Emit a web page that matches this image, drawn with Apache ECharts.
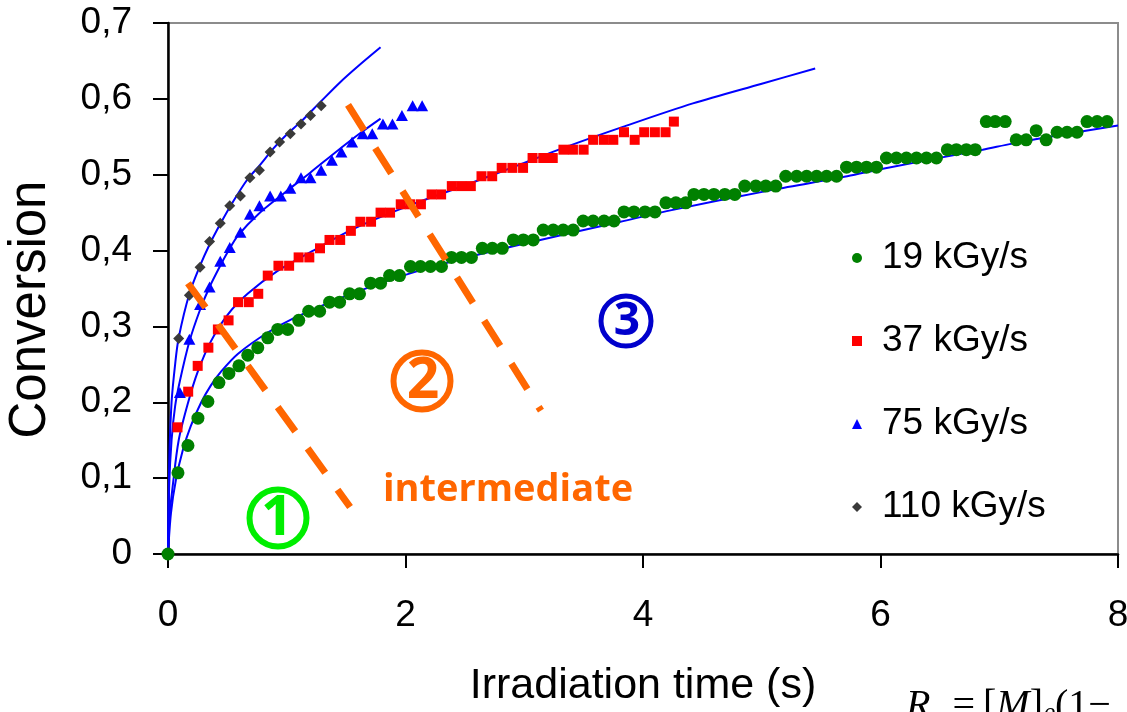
<!DOCTYPE html>
<html><head><meta charset="utf-8">
<script src="https://cdn.jsdelivr.net/npm/echarts@6/dist/echarts.min.js"></script>
<style>html,body{margin:0;padding:0;background:#fff}#c{width:1127px;height:712px}</style>
</head><body><div id="c"></div>
<script>
const seriesNames = ['19 kGy/s', '37 kGy/s', '75 kGy/s', '110 kGy/s'];
const xTickLabels = ['0', '2', '4', '6', '8'];
const yTickLabels = ['0', '0,1', '0,2', '0,3', '0,4', '0,5', '0,6', '0,7'];

// measured points [time (s), conversion]
const data19 = [[0,0],[0.084,0.107],[0.168,0.143],[0.252,0.179],[0.336,0.201],[0.429,0.226],[0.513,0.238],[0.597,0.248],[0.672,0.262],[0.756,0.272],[0.84,0.285],[0.924,0.296],[1.008,0.296],[1.101,0.308],[1.185,0.32],[1.277,0.32],[1.361,0.332],[1.445,0.332],[1.529,0.343],[1.613,0.343],[1.706,0.357],[1.79,0.357],[1.866,0.367],[1.95,0.367],[2.042,0.379],[2.126,0.379],[2.21,0.379],[2.303,0.379],[2.387,0.391],[2.471,0.391],[2.555,0.391],[2.647,0.403],[2.731,0.403],[2.815,0.403],[2.908,0.414],[2.992,0.414],[3.076,0.414],[3.16,0.427],[3.244,0.427],[3.328,0.427],[3.412,0.427],[3.496,0.439],[3.58,0.439],[3.672,0.439],[3.756,0.439],[3.84,0.451],[3.924,0.451],[4.017,0.451],[4.101,0.451],[4.193,0.463],[4.277,0.463],[4.36,0.463],[4.429,0.474],[4.513,0.474],[4.597,0.474],[4.689,0.474],[4.773,0.474],[4.857,0.485],[4.95,0.485],[5.034,0.485],[5.118,0.485],[5.202,0.498],[5.294,0.498],[5.378,0.498],[5.462,0.498],[5.546,0.498],[5.63,0.498],[5.714,0.51],[5.798,0.51],[5.882,0.51],[5.966,0.51],[6.05,0.522],[6.134,0.522],[6.218,0.522],[6.303,0.522],[6.387,0.522],[6.471,0.522],[6.563,0.533],[6.639,0.533],[6.723,0.533],[6.798,0.533],[6.891,0.57],[6.966,0.57],[7.05,0.57],[7.143,0.546],[7.227,0.546],[7.311,0.558],[7.395,0.546],[7.487,0.556],[7.571,0.556],[7.655,0.556],[7.739,0.57],[7.824,0.57],[7.908,0.57]];
const data37 = [[0.08,0.167],[0.17,0.214],[0.25,0.248],[0.34,0.272],[0.42,0.296],[0.51,0.308],[0.59,0.332],[0.68,0.332],[0.76,0.343],[0.84,0.367],[0.93,0.38],[1.02,0.38],[1.1,0.391],[1.19,0.391],[1.28,0.403],[1.36,0.414],[1.45,0.414],[1.54,0.426],[1.62,0.438],[1.71,0.438],[1.79,0.45],[1.87,0.45],[1.96,0.461],[2.04,0.461],[2.13,0.461],[2.22,0.474],[2.3,0.474],[2.39,0.485],[2.47,0.485],[2.55,0.485],[2.64,0.498],[2.73,0.498],[2.81,0.509],[2.9,0.509],[2.99,0.509],[3.07,0.522],[3.16,0.522],[3.24,0.522],[3.33,0.533],[3.41,0.533],[3.5,0.533],[3.58,0.546],[3.67,0.546],[3.75,0.546],[3.84,0.556],[3.93,0.546],[4.01,0.556],[4.1,0.556],[4.19,0.556],[4.26,0.57]];
const data75 = [[0.1,0.213],[0.18,0.283],[0.27,0.329],[0.35,0.352],[0.44,0.386],[0.52,0.404],[0.61,0.424],[0.69,0.448],[0.77,0.459],[0.86,0.472],[0.95,0.472],[1.03,0.482],[1.12,0.496],[1.2,0.496],[1.29,0.506],[1.38,0.519],[1.46,0.53],[1.55,0.543],[1.64,0.554],[1.72,0.554],[1.81,0.567],[1.89,0.567],[1.97,0.578],[2.06,0.591],[2.14,0.591]];
const data110 = [[0.09,0.284],[0.18,0.341],[0.27,0.378],[0.35,0.412],[0.44,0.436],[0.52,0.459],[0.61,0.472],[0.69,0.496],[0.77,0.506],[0.86,0.53],[0.94,0.543],[1.03,0.554],[1.12,0.567],[1.2,0.578],[1.29,0.591]];

// fitted model curves
const fit19 = [[0,0],[0.025,0.054],[0.067,0.098],[0.125,0.137],[0.19,0.168],[0.28,0.2],[0.36,0.222],[0.45,0.241],[0.59,0.264],[0.84,0.292],[1.06,0.311],[1.43,0.336],[1.96,0.366],[2.5,0.39],[3.08,0.412],[3.81,0.438],[4.2,0.452],[5.09,0.48],[5.72,0.498],[6.02,0.508],[6.86,0.533],[7.11,0.541],[7.5,0.552],[8,0.565]];
const fit37 = [[0,0],[0.01,0.045],[0.04,0.09],[0.09,0.15],[0.17,0.2],[0.25,0.24],[0.36,0.28],[0.5,0.315],[0.67,0.343],[0.92,0.373],[1.2,0.398],[1.54,0.427],[1.96,0.455],[2.57,0.49],[2.94,0.512],[3.36,0.537],[3.83,0.563],[4.42,0.594],[5.0,0.62],[5.45,0.64]];
const fit75 = [[0,0],[0.01,0.09],[0.03,0.15],[0.06,0.195],[0.1,0.228],[0.18,0.28],[0.27,0.322],[0.35,0.352],[0.44,0.38],[0.51,0.4],[0.59,0.42],[0.76,0.448],[0.98,0.476],[1.2,0.503],[1.43,0.532],[1.62,0.555],[1.79,0.574]];
const fit110 = [[0,0],[0.01,0.12],[0.03,0.2],[0.06,0.25],[0.09,0.285],[0.18,0.343],[0.27,0.38],[0.35,0.408],[0.44,0.435],[0.55,0.465],[0.67,0.494],[0.77,0.512],[0.89,0.535],[1.0,0.553],[1.12,0.57],[1.29,0.597],[1.45,0.622],[1.6,0.643],[1.79,0.668]];

// regime boundaries (dashed orange lines), in data coordinates
const boundary1 = [[0.168,0.357],[1.533,0.062]];
const boundary2 = [[1.516,0.592],[3.141,0.189]];

const FONT = "'Liberation Sans', Arial, sans-serif";
const chart = echarts.init(document.getElementById('c'), null, {renderer: 'canvas'});

function fitSeries(name, d, extra) {
  return Object.assign({
    name: name, type: 'line', data: d, showSymbol: false, symbol: 'none',
    smooth: 0.3, lineStyle: {color: '#0000ff', width: 2}, z: 2, silent: true
  }, extra || {});
}

chart.setOption({
  animation: false,
  backgroundColor: '#ffffff',
  grid: {left: 168, right: 9, top: 23, bottom: 158, containLabel: false, outerBoundsMode: 'none',
         show: true, borderColor: '#8c8c8c', borderWidth: 2, backgroundColor: 'transparent'},
  xAxis: {
    type: 'value', min: 0, max: 8, interval: 2,
    name: 'Irradiation time (s)', nameLocation: 'middle', nameGap: 111,
    nameTextStyle: {fontSize: 43, fontFamily: FONT, color: '#000'},
    axisLine: {lineStyle: {color: '#000', width: 2.5}},
    axisTick: {show: true, inside: false, length: 14, lineStyle: {color: '#000', width: 2}},
    axisLabel: {margin: 43, fontSize: 37, fontFamily: FONT, color: '#000', formatter: v => xTickLabels[Math.round(v / 2)]},
    splitLine: {show: false}
  },
  yAxis: {
    type: 'value', min: 0, max: 0.7, interval: 0.1,
    name: 'Conversion', nameLocation: 'middle', nameGap: 112,
    nameTextStyle: {fontSize: 51, fontFamily: FONT, color: '#000', padding: [0, 42, 0, 0]},
    axisLine: {lineStyle: {color: '#000', width: 2.5}},
    axisTick: {show: true, inside: false, length: 15, lineStyle: {color: '#000', width: 2}},
    axisLabel: {margin: 36, fontSize: 37, fontFamily: FONT, color: '#000', formatter: v => yTickLabels[Math.round(v * 10)]},
    splitLine: {show: false}
  },
  legend: {
    data: seriesNames, orient: 'vertical', left: 847, top: 233,
    itemWidth: 10, itemHeight: 10, itemGap: 43, selectedMode: false,
    textStyle: {fontSize: 37, fontFamily: FONT, color: '#000', lineHeight: 40, padding: [0, 0, 0, 15]}
  },
  series: [
    fitSeries('fit 19', fit19, {
      markLine: {
        silent: true, symbol: ['none', 'none'], animation: false,
        label: {show: false},
        lineStyle: {color: '#ff6600', width: 7, type: [30, 21], cap: 'butt', opacity: 1},
        emphasis: {disabled: true},
        data: [
          [{coord: boundary1[0]}, {coord: boundary1[1]}],
          [{coord: boundary2[0]}, {coord: boundary2[1]}]
        ]
      }
    }),
    fitSeries('fit 37', fit37),
    fitSeries('fit 75', fit75),
    fitSeries('fit 110', fit110),
    {name: seriesNames[0], type: 'scatter', data: data19, symbol: 'circle', symbolSize: 13, itemStyle: {color: '#008000', opacity: 1}, z: 3},
    {name: seriesNames[1], type: 'scatter', data: data37, symbol: 'rect', symbolSize: 10, itemStyle: {color: '#ff0000', opacity: 1}, z: 3},
    {name: seriesNames[2], type: 'scatter', data: data75, symbol: 'triangle', symbolSize: [12, 11], itemStyle: {color: '#0000ff', opacity: 1}, z: 3},
    {name: seriesNames[3], type: 'scatter', data: data110, symbol: 'diamond', symbolSize: 11, itemStyle: {color: '#3a3a3a', opacity: 1}, z: 3}
  ],
  graphic: [
    {type: 'circle', shape: {cx: 278, cy: 518, r: 28.5}, style: {fill: 'none', stroke: '#00ee00', lineWidth: 6}, z: 10},
    {type: 'text', x: 277, y: 519, style: {text: '1', fill: '#00ee00', font: "bold 56px 'Noto Sans', sans-serif", align: 'center', verticalAlign: 'middle'}, z: 10},
    {type: 'circle', shape: {cx: 422, cy: 381, r: 28.5}, style: {fill: 'none', stroke: '#ff6600', lineWidth: 6}, z: 10},
    {type: 'text', x: 423, y: 382, style: {text: '2', fill: '#ff6600', font: "bold 57px 'Noto Sans', sans-serif", align: 'center', verticalAlign: 'middle'}, z: 10},
    {type: 'circle', shape: {cx: 626, cy: 321, r: 25}, style: {fill: 'none', stroke: '#0000cc', lineWidth: 5}, z: 10},
    {type: 'text', x: 627, y: 322, style: {text: '3', fill: '#0000cc', font: "bold 46px 'Noto Sans', sans-serif", align: 'center', verticalAlign: 'middle'}, z: 10},
    {type: 'text', x: 383, y: 490, style: {text: 'intermediate', fill: '#ff6600', font: "bold 38px 'Open Sans', sans-serif", align: 'left', verticalAlign: 'middle'}, z: 10},
    {type: 'text', x: 906, y: 706, z: 10, style: {
      text: '{i|R}{s|p}{n| =\u2009[}{i|M}{n|]}{s|0}{n|(1\u2212}',
      align: 'left', verticalAlign: 'middle',
      rich: {
        i: {font: "italic 40px 'Liberation Serif', serif", fill: '#000'},
        n: {font: "40px 'Liberation Serif', serif", fill: '#000'},
        s: {font: "italic 24px 'Liberation Serif', serif", fill: '#000', padding: [22, 0, 0, 0]}
      }
    }}
  ]
});
</script>
</body></html>
